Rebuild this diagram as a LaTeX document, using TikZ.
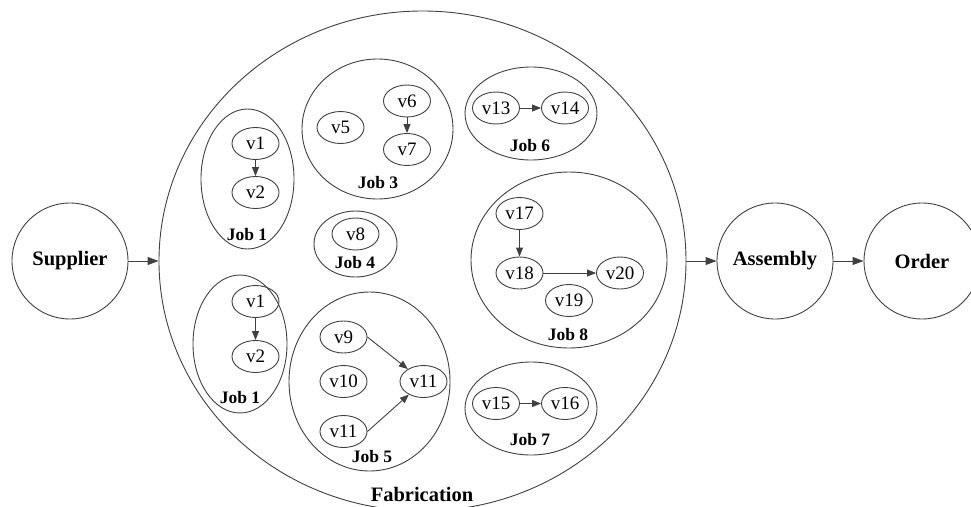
\documentclass[tikz,border=0pt]{standalone}
\usepackage{fontspec}
\setmainfont{Liberation Serif}
\usetikzlibrary{arrows.meta,shapes.geometric}
\definecolor{lc}{RGB}{64,64,64}
\begin{document}
\begin{tikzpicture}[x=1pt,y=-1pt,line width=0.9pt,
  stage/.style={circle,draw=lc,minimum size=116pt,inner sep=0pt,font=\fontsize{20.5}{24}\selectfont\bfseries},
  vnode/.style={ellipse,draw=lc,minimum width=47pt,minimum height=32pt,inner sep=0pt,font=\fontsize{19}{21}\selectfont},
  jobbox/.style={ellipse,draw=lc,inner sep=0pt},
  joblabel/.style={font=\fontsize{17.5}{20}\selectfont\bfseries,inner sep=0pt},
  flow/.style={draw=lc,-{Triangle[length=11pt,width=8pt]}},
  dep/.style={draw=lc,-{Triangle[length=9pt,width=7pt]}}]
\useasboundingbox (0,0) rectangle (971,506);
% stages
\node[jobbox,minimum width=527pt,minimum height=500pt] (fab) at (422.5,261) {};
\node[stage] (sup) at (70,261) {Supplier};
\node[stage] (asm) at (775,261) {Assembly};
\node[stage] (ord) at (922,261) {Order};
% Job 1 (upper)
\node[jobbox,minimum width=93pt,minimum height=140pt] (j1a) at (247.5,179) {};
\node[vnode] (v1a) at (255.5,143.5) {v1};
\node[vnode] (v2a) at (255.5,192.5) {v2};
\node[joblabel] (l1a) at (247,235) {Job 1};
% Job 1 (lower)
\node[jobbox,minimum width=94pt,minimum height=138pt] (j1b) at (240,344) {};
\node[vnode] (v1b) at (255.5,301.5) {v1};
\node[vnode] (v2b) at (255.5,356.5) {v2};
\node[joblabel] (l1b) at (240,398) {Job 1};
% Job 3
\node[jobbox,minimum width=151pt,minimum height=140pt] (j3) at (377.5,129) {};
\node[vnode] (v5) at (340.5,127.5) {v5};
\node[vnode] (v6) at (407,101) {v6};
\node[vnode] (v7) at (407,149.5) {v7};
\node[joblabel] (l3) at (378,183) {Job 3};
% Job 4
\node[jobbox,minimum width=83pt,minimum height=66pt] (j4) at (355.5,244) {};
\node[vnode] (v8) at (355.5,234) {v8};
\node[joblabel] (l4) at (355,263) {Job 4};
% Job 5
\node[jobbox,minimum width=161pt,minimum height=179pt] (j5) at (369.5,381.5) {};
\node[vnode] (v9) at (343.5,337) {v9};
\node[vnode] (v10) at (343.5,381.5) {v10};
\node[vnode] (v11b) at (343.5,431.5) {v11};
\node[vnode] (v11r) at (423.5,381.5) {v11};
\node[joblabel] (l5) at (372,457) {Job 5};
% Job 6
\node[jobbox,minimum width=132pt,minimum height=93pt] (j6) at (531,113.5) {};
\node[vnode] (v13) at (496,108) {v13};
\node[vnode] (v14) at (565,108) {v14};
\node[joblabel] (l6) at (530,146) {Job 6};
% Job 8
\node[jobbox,minimum width=196pt,minimum height=176pt] (j8) at (569,260) {};
\node[vnode] (v17) at (519.5,213.5) {v17};
\node[vnode] (v18) at (519.5,273) {v18};
\node[vnode] (v20) at (620,273) {v20};
\node[vnode] (v19) at (569,300.5) {v19};
\node[joblabel] (l8) at (568,335) {Job 8};
% Job 7
\node[jobbox,minimum width=132pt,minimum height=93pt] (j7) at (531,408.5) {};
\node[vnode] (v15) at (496,403.5) {v15};
\node[vnode] (v16) at (565,403.5) {v16};
\node[joblabel] (l7) at (530,440) {Job 7};
% Fabrication label
\node[fill=white,inner xsep=10pt,inner ysep=1pt,font=\fontsize{20.5}{24}\selectfont\bfseries] (fl) at (422,494) {Fabrication};
% connectors
\draw[flow] (sup) -- (fab);
\draw[flow] (fab) -- (asm);
\draw[flow] (asm) -- (ord);
\draw[dep] (v1a) -- (v2a);
\draw[dep] (v1b) -- (v2b);
\draw[dep] (v6) -- (v7);
\draw[dep] (v13) -- (v14);
\draw[dep] (v17) -- (v18);
\draw[dep] (v18) -- (v20);
\draw[dep] (v15) -- (v16);
\draw[dep] (v9.east) -- (v11r);
\draw[dep] (v11b.east) -- (v11r);
\end{tikzpicture}
\end{document}
